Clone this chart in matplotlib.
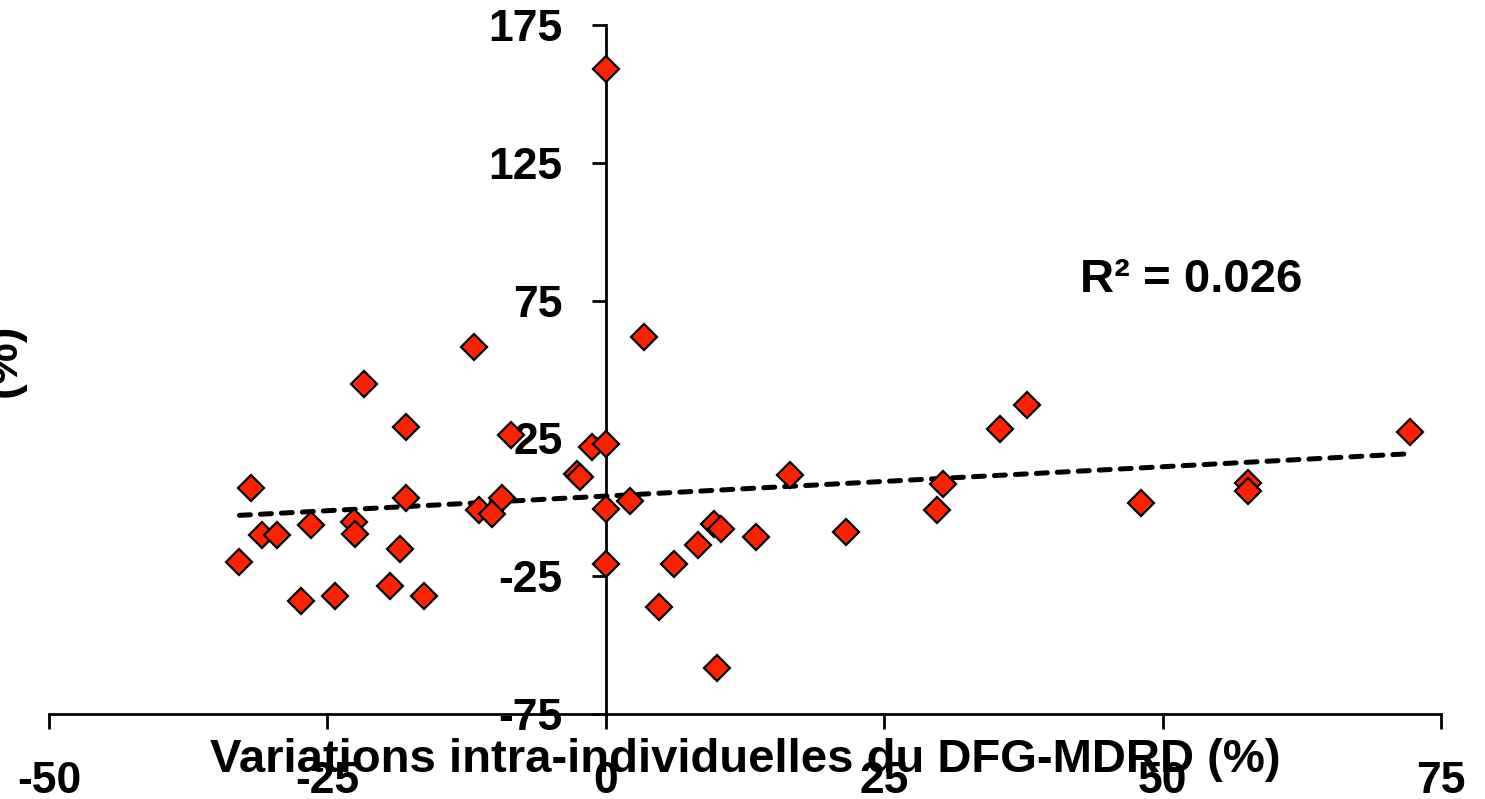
import numpy as np
import matplotlib
matplotlib.use("Agg")
import matplotlib.pyplot as plt

# Data
x_vals = [0.0, 3.4, -11.8, -21.7, -17.9, -8.5, -1.2, 0.0, -2.6, -2.3,
          -31.9, -17.9, -9.3, -11.4, -10.2, 0.0, 2.2, 16.5, 30.3, 29.7,
          35.4, 37.8, 48.1, 57.7, 57.7, 72.2, 21.6, 13.5, 9.7, 10.3,
          8.3, 6.1, 4.8, 10.0, 0.0, -32.9, -30.9, -29.5, -26.5, -22.6,
          -22.5, -18.5, -27.4, -24.3, -19.4, -16.3]
y_vals = [159.1, 61.7, 58.0, 44.6, 29.1, 26.4, 21.8, 22.8, 12.0, 11.1,
          7.1, 3.2, 3.2, -1.0, -2.5, -0.5, 2.3, 11.6, 8.3, -1.1,
          28.3, 37.3, 1.4, 8.7, 5.8, 27.5, -8.8, -10.8, -5.9, -8.0,
          -13.7, -20.4, -36.0, -58.3, -20.7, -19.8, -10.1, -10.1, -6.4, -5.5,
          -9.8, -15.2, -34.0, -32.1, -28.5, -32.1]
x_ticks = [-50, -25, 0, 25, 50, 75]
y_ticks = [-75, -25, 25, 75, 125, 175]
x_label = "Variations intra-individuelles du DFG-MDRD (%)"
y_label = "(%)"
r2_text = "R\u00b2 = 0.026"

plt.rcParams['font.family'] = ['Liberation Sans', 'DejaVu Sans']
plt.rcParams['font.weight'] = 'bold'

fig = plt.figure(figsize=(14.85, 7.99), dpi=100)
ax = fig.add_axes([49/1485, 1-714/799, (1441-49)/1485, (714-25)/799])

x = np.array(x_vals)
y = np.array(y_vals)

# linear trend line
slope, intercept = np.polyfit(x, y, 1)
xl = np.array([x.min(), x.max()])
ax.plot(xl, slope*xl + intercept, color='black', lw=3.6, dashes=(2.2, 2.0),
        dash_capstyle='round', zorder=2)

ax.plot(x, y, linestyle='none', marker='D', markersize=13.5,
        markerfacecolor='#FF2200', markeredgecolor='black', markeredgewidth=1.6,
        zorder=3, clip_on=False)

ax.set_xlim(-50, 75)
ax.set_ylim(-75, 175)
ax.set_xticks(x_ticks)
ax.set_yticks(y_ticks)
ax.set_xticklabels([str(v) for v in x_ticks])
ax.set_yticklabels([str(v) for v in y_ticks])

for s in ['top', 'right']:
    ax.spines[s].set_visible(False)
ax.spines['left'].set_position(('data', 0))
ax.spines['left'].set_linewidth(2)
ax.spines['bottom'].set_linewidth(2)

ax.tick_params(axis='y', direction='out', length=10, width=2, pad=21,
               labelsize=32)
ax.tick_params(axis='x', direction='out', length=11, width=2, pad=23,
               labelsize=32)
for lab in ax.get_xticklabels() + ax.get_yticklabels():
    lab.set_fontweight('bold')

ax.text(42.6, 78.3, r2_text, fontsize=34, fontweight='bold', va='baseline', ha='left')

fig.text(745/1485, 1-772/799, x_label, fontsize=34, fontweight='bold',
         ha='center', va='baseline')
fig.text(26/1485, 1-360/799, y_label, fontsize=34, fontweight='bold',
         rotation=90, ha='right', va='center')

fig.savefig('out.png', dpi=100)
